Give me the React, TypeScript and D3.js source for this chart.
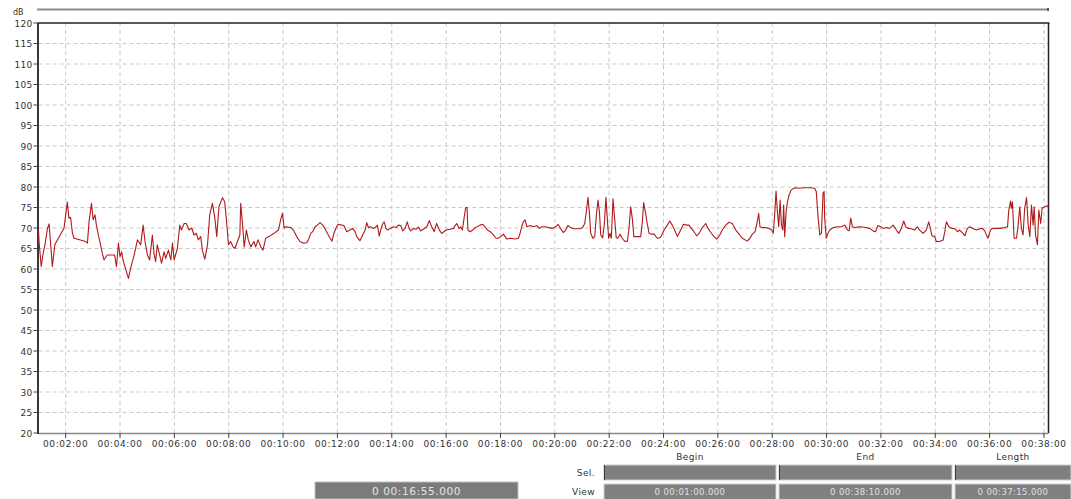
import React from "react";
import * as d3 from "d3";

// Time of each sample, in minutes from 00:00:00
const timeMin: number[] = [
  1.0, 1.02, 1.1, 1.17, 1.24, 1.33, 1.39, 1.51, 1.6, 1.69, 1.94, 2.06, 2.12, 2.18, 2.25, 2.31, 2.74, 2.8, 2.86, 2.95,
  3.01, 3.08, 3.13, 3.23, 3.35, 3.41, 3.53, 3.8, 3.87, 3.94, 4.0, 4.06, 4.11, 4.18, 4.31, 4.39, 4.52, 4.64, 4.76, 4.85,
  4.92, 5.01, 5.09, 5.19, 5.25, 5.31, 5.37, 5.46, 5.53, 5.62, 5.68, 5.78, 5.87, 5.93, 5.99, 6.11, 6.2, 6.26, 6.36, 6.44,
  6.54, 6.64, 6.72, 6.81, 6.88, 6.97, 7.03, 7.12, 7.22, 7.3, 7.4, 7.49, 7.56, 7.64, 7.77, 7.85, 7.91, 7.99, 8.07, 8.16,
  8.23, 8.32, 8.41, 8.44, 8.5, 8.57, 8.65, 8.72, 8.81, 8.93, 8.99, 9.08, 9.18, 9.26, 9.36, 9.48, 9.67, 9.83, 9.91, 9.98,
  10.04, 10.1, 10.28,
  10.38, 10.5, 10.62, 10.75, 10.87, 10.93, 11.02, 11.09, 11.18, 11.26, 11.36, 11.46, 11.54, 11.63, 11.73, 11.8, 11.87,
  11.97, 12.03, 12.16, 12.24, 12.34, 12.46, 12.56, 12.65, 12.71, 12.83, 12.93, 13.02, 13.08, 13.14, 13.22, 13.32, 13.42,
  13.47, 13.54, 13.59, 13.67, 13.72, 13.79, 13.85, 13.94, 14.06, 14.16, 14.24, 14.33, 14.4, 14.49, 14.57, 14.635, 14.7,
  14.8, 14.89, 14.98, 15.07, 15.16, 15.29, 15.38, 15.47, 15.56, 15.65, 15.75, 15.84, 15.92, 16.0, 16.14, 16.27, 16.33,
  16.39, 16.48, 16.54, 16.6, 16.66, 16.72, 16.77, 16.8, 16.88, 16.98, 17.07, 17.15, 17.25, 17.35, 17.43, 17.52, 17.62,
  17.74, 17.84, 17.92, 18.01, 18.11, 18.17, 18.23, 18.35, 18.54, 18.66, 18.72, 18.78, 18.84, 18.91, 18.97, 19.09, 19.21,
  19.34, 19.43, 19.52, 19.64,
  19.78, 19.91, 20.03, 20.12, 20.21, 20.31, 20.4, 20.48, 20.58, 20.7, 20.83, 20.95, 21.04, 21.1, 21.16, 21.22, 21.27,
  21.32, 21.4, 21.47, 21.53, 21.59, 21.64, 21.69, 21.76, 21.82, 21.88, 21.93, 21.98, 22.03, 22.08, 22.14, 22.2, 22.26,
  22.32, 22.4, 22.48, 22.57, 22.67, 22.73, 22.79, 22.85, 22.91, 23.01, 23.16, 23.22, 23.27, 23.33, 23.4, 23.47, 23.55,
  23.65, 23.77, 23.89, 24.02, 24.14, 24.23, 24.32, 24.41, 24.51, 24.57, 24.66, 24.73, 24.85, 24.94, 25.02, 25.12, 25.22,
  25.31, 25.43, 25.55, 25.64, 25.74, 25.86, 25.96, 26.07, 26.16, 26.29, 26.41, 26.53, 26.66, 26.78, 26.9, 27.08, 27.18,
  27.27, 27.37, 27.45, 27.5, 27.55, 27.64, 27.76, 27.88, 27.98, 28.04, 28.09, 28.14, 28.19, 28.24, 28.29, 28.34, 28.39,
  28.42, 28.46, 28.51, 28.56, 28.62, 28.7, 28.83, 28.99,
  29.2, 29.38, 29.56, 29.62, 29.69, 29.75, 29.81, 29.87, 29.91, 29.93, 29.99, 30.05, 30.12, 30.24, 30.42, 30.55, 30.67,
  30.77, 30.83, 30.89, 30.95, 31.04, 31.22, 31.4, 31.59, 31.71, 31.8, 31.89, 31.99, 32.08, 32.2, 32.32, 32.45, 32.57,
  32.66, 32.75, 32.84, 32.91, 33.0, 33.12, 33.24, 33.34, 33.43, 33.55, 33.67, 33.76, 33.82, 33.88, 33.98, 34.04, 34.16,
  34.29, 34.35, 34.41, 34.5, 34.62, 34.72, 34.82, 34.9, 35.02, 35.09, 35.18, 35.27, 35.39, 35.51, 35.64, 35.74, 35.82,
  35.88, 35.94, 36.01, 36.07, 36.19, 36.37, 36.56, 36.66, 36.7, 36.77, 36.8, 36.84, 36.9, 36.99, 37.05, 37.11, 37.17,
  37.23, 37.29, 37.36, 37.42, 37.48, 37.54, 37.6, 37.64, 37.69, 37.76, 37.81, 37.88, 37.93, 38.03, 38.13, 38.17,
];

// Sound level of each sample, in dB
const levelDb: number[] = [
  69.5, 66.7, 60.6, 63.8, 66.0, 69.9, 71.0, 60.6, 65.9, 67.0, 70.0, 76.3, 72.4, 72.6, 68.7, 67.5, 66.7, 66.3, 71.5, 76.0,
  72.0, 73.2, 70.7, 67.5, 63.8, 62.2, 63.4, 63.4, 60.6, 66.3, 63.0, 64.2, 62.2, 60.6, 57.7, 60.2, 63.4, 67.1, 65.9, 70.7,
  66.7, 63.4, 62.2, 68.3, 63.8, 61.8, 65.9, 63.4, 61.4, 64.2, 62.6, 64.6, 62.2, 66.3, 62.2, 65.0, 70.7, 69.5, 71.1, 71.1,
  69.5, 70.0, 68.3, 68.7, 67.1, 67.9, 64.6, 62.4, 65.9, 73.2, 76.0, 72.4, 67.9, 75.2, 77.4, 76.4, 72.4, 65.9, 66.7, 65.4,
  65.0, 66.7, 68.3, 76.0, 71.5, 65.4, 69.5, 67.1, 65.4, 66.7, 65.4, 67.1, 65.4, 64.6, 67.5, 67.9, 68.7, 69.5, 72.0, 73.6,
  70.0, 70.3, 70.1,
  69.5, 67.9, 66.7, 66.3, 66.4, 67.1, 68.7, 69.1, 70.3, 70.7, 71.3, 70.7, 69.9, 68.7, 67.5, 66.8, 68.7,
  70.3, 70.9, 70.7, 70.6, 69.1, 69.5, 69.9, 69.1, 67.9, 66.9, 68.3, 69.5, 71.3, 70.1, 70.3, 69.9, 70.3,
  70.7, 68.0, 69.5, 71.1, 71.5, 69.9, 69.5, 69.9, 70.3, 70.1, 70.7, 70.6, 69.3, 69.9, 71.5, 69.9, 69.3,
  69.9, 69.7, 70.2, 69.3, 69.7, 70.3, 71.8, 70.3, 69.1, 71.1, 69.5, 68.7, 69.1, 69.5, 69.7, 69.9, 70.6,
  71.1, 69.9, 70.3, 69.5, 72.4, 75.0, 75.0, 69.5, 69.1, 69.5, 70.1, 70.3, 70.7, 70.9, 70.3, 69.5, 69.1,
  68.3, 67.5, 67.5, 67.9, 68.5, 67.9, 67.3, 67.5, 67.3, 67.5, 68.7, 70.3, 71.5, 72.0, 70.3, 70.6, 70.3,
  70.6, 69.9, 70.3, 70.3,
  70.1, 69.9, 70.3, 70.9, 69.9, 68.9, 69.5, 70.6, 70.1, 69.8, 69.8, 69.8, 70.3, 71.1, 74.0, 77.5, 74.0,
  68.7, 67.5, 67.9, 73.2, 76.8, 74.0, 68.3, 67.6, 70.7, 77.5, 72.4, 67.5, 68.7, 67.5, 77.1, 72.4, 67.6,
  67.5, 68.5, 67.5, 66.8, 66.7, 69.9, 75.2, 72.4, 67.9, 67.9, 67.9, 71.5, 76.2, 74.0, 71.1, 68.7, 68.5,
  68.5, 67.5, 67.7, 69.5, 70.7, 71.7, 70.7, 69.5, 67.9, 68.7, 69.9, 70.9, 70.7, 70.7, 69.9, 69.1, 68.1,
  68.7, 70.1, 71.1, 69.9, 68.9, 67.9, 67.3, 68.3, 69.5, 70.7, 71.4, 71.1, 69.5, 68.5, 67.5, 66.8, 67.5,
  68.5, 69.1, 71.5, 73.6, 70.3, 70.1, 70.1, 69.9, 69.5, 68.7, 73.2, 79.0, 74.0, 70.3, 76.8, 70.7, 69.5,
  75.6, 67.9, 74.0, 76.4, 78.0, 79.3, 79.8, 79.7,
  79.8, 79.8, 79.7, 78.9, 72.4, 68.3, 68.7, 78.5, 78.9, 72.4, 67.5, 68.7, 69.5, 70.1, 70.3, 70.3, 70.7,
  69.5, 69.3, 72.4, 70.3, 70.1, 70.3, 70.2, 69.9, 69.3, 69.1, 70.6, 70.3, 69.9, 70.1, 69.9, 70.7, 69.5,
  68.7, 69.9, 71.7, 70.3, 69.9, 69.8, 69.5, 70.3, 69.5, 68.7, 69.5, 71.5, 69.9, 68.1, 67.9, 66.7, 66.7,
  67.1, 69.1, 71.5, 70.3, 69.9, 69.8, 69.1, 69.5, 68.7, 68.1, 69.9, 70.3, 69.9, 69.5, 69.8, 69.9, 69.3,
  68.3, 67.5, 69.1, 69.8, 69.9, 69.9, 70.1, 70.3, 74.0, 76.6, 74.8, 76.4, 67.5, 67.5, 70.7, 75.2, 69.9,
  68.3, 74.8, 77.4, 70.7, 67.9, 75.6, 70.7, 75.2, 68.3, 65.9, 74.4, 71.1, 74.8, 75.2, 75.4, 75.4,
];

const xTickMinutes: number[] = [2, 4, 6, 8, 10, 12, 14, 16, 18, 20, 22, 24, 26, 28, 30, 32, 34, 36, 38];
const yTickValues: number[] = [20, 25, 30, 35, 40, 45, 50, 55, 60, 65, 70, 75, 80, 85, 90, 95, 100, 105, 110, 115, 120];

const viewBegin = "0 00:01:00.000";
const viewEnd = "0 00:38:10.000";
const viewLength = "0 00:37:15.000";
const cursorTime = "0 00:16:55.000";

const W = 1071;
const H = 499;
const L = 38.5;
const R = 1048.5;
const T = 23;
const B = 433;
const FONT = "'DejaVu Sans', Verdana, sans-serif";
const TXT = "#333";

const pad = (n: number) => String(n).padStart(2, "0");
const fmtTick = (m: number) => `${pad(Math.floor(m / 60))}:${pad(m % 60)}:00`;

export default function App() {
  const x = d3.scaleLinear().domain([1, 38 + 10 / 60]).range([L, R]);
  const y = d3.scaleLinear().domain([20, 120]).range([B, T]);
  const pts = timeMin.map((t, i) => [t, levelDb[i]] as [number, number]);
  const line = d3
    .line<[number, number]>()
    .x((d) => x(d[0]))
    .y((d) => y(d[1]));

  const boxes = [
    { x0: 604, x1: 776, label: "Begin", view: viewBegin },
    { x0: 779, x1: 952, label: "End", view: viewEnd },
    { x0: 955, x1: 1071, label: "Length", view: viewLength },
  ];

  return (
    <svg
      width={W}
      height={H}
      style={{ position: "absolute", left: 0, top: 0, background: "#fff" }}
      fontFamily={FONT}
    >
      <rect x={0} y={0} width={W} height={H} fill="#fff" />
      {/* top scroll bar */}
      <line x1={37} x2={1049} y1={9.5} y2={9.5} stroke="#8c8c8c" strokeWidth={2} />
      <rect x={1047} y={8} width={2} height={3} fill="#555" />
      <text x={13} y={14.5} fontSize={8} fill={TXT}>dB</text>

      {/* grid */}
      {yTickValues
        .filter((v) => v > 20 && v < 120)
        .map((v) => (
          <line key={"gy" + v} x1={L} x2={R} y1={y(v)} y2={y(v)} stroke="#c9c9c9" strokeWidth={1} strokeDasharray="4,3" />
        ))}
      {xTickMinutes.map((m) => (
        <line key={"gx" + m} x1={x(m)} x2={x(m)} y1={T} y2={B} stroke="#c9c9c9" strokeWidth={1} strokeDasharray="4,3" />
      ))}

      {/* frame */}
      <line x1={L} x2={R} y1={B + 0.5} y2={B + 0.5} stroke="#8a8a8a" strokeWidth={1.5} />
      <line x1={L - 1} x2={R + 1} y1={T} y2={T} stroke="#222" strokeWidth={1.5} />
      <line x1={R} x2={R} y1={T} y2={B} stroke="#222" strokeWidth={1.5} />
      <line x1={L - 0.5} x2={L - 0.5} y1={T} y2={B + 1} stroke="#222" strokeWidth={1.8} />

      {/* y axis */}
      {yTickValues.map((v) => (
        <g key={"yt" + v}>
          <line x1={L - 5} x2={L - 1} y1={y(v)} y2={y(v)} stroke="#444" strokeWidth={1} />
          <text x={L - 6} y={y(v) + 3.5} fontSize={9} textAnchor="end" fill={TXT} letterSpacing={0.3}>
            {v}
          </text>
        </g>
      ))}

      {/* x axis */}
      {xTickMinutes.map((m) => (
        <g key={"xt" + m}>
          <line x1={x(m)} x2={x(m)} y1={B} y2={B + 5} stroke="#444" strokeWidth={1} />
          <text x={x(m)} y={B + 14} fontSize={9} textAnchor="middle" fill={TXT} letterSpacing={0.6}>
            {fmtTick(m)}
          </text>
        </g>
      ))}

      {/* data line */}
      <path d={line(pts) || ""} fill="none" stroke="#b01a1a" strokeWidth={1.1} strokeLinejoin="round" />

      {/* bottom controls */}
      <rect x={315} y={482} width={203} height={17} fill="#7b7b7b" stroke="#bdbdbd" strokeWidth={1} />
      <text x={416.5} y={494.5} fontSize={10.5} textAnchor="middle" fill="#e4e4e4" letterSpacing={0.6}>
        {cursorTime}
      </text>

      <text x={595} y={475.5} fontSize={9} textAnchor="end" fill={TXT} letterSpacing={0.4}>Sel.</text>
      <text x={595} y={494.5} fontSize={9} textAnchor="end" fill={TXT} letterSpacing={0.4}>View</text>
      {boxes.map((b) => (
        <g key={b.label}>
          <text x={(b.x0 + b.x1) / 2} y={460} fontSize={9} textAnchor="middle" fill={TXT} letterSpacing={0.4}>
            {b.label}
          </text>
          <rect x={b.x0} y={465} width={b.x1 - b.x0} height={15} fill="#808080" stroke="#cfcfcf" strokeWidth={1} />
          <line x1={b.x0 + 0.5} x2={b.x0 + 0.5} y1={465} y2={480} stroke="#3a3a3a" strokeWidth={1} />
          <rect x={b.x0} y={484} width={b.x1 - b.x0} height={16} fill="#808080" stroke="#cfcfcf" strokeWidth={1} />
          <text x={(b.x0 + b.x1) / 2} y={494.5} fontSize={8.5} textAnchor="middle" fill="#e0e0e0" letterSpacing={0.4}>
            {b.view}
          </text>
        </g>
      ))}
    </svg>
  );
}
